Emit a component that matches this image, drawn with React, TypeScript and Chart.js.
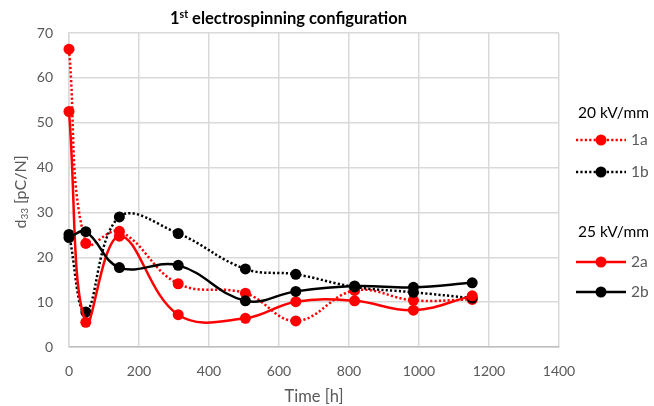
import React, { useEffect, useRef } from "react";
import { Chart, registerables } from "chart.js";

Chart.register(...registerables);

// ---- data ----
const times = [0, 48, 144, 312, 504, 648, 816, 984, 1152];
const values1a = [66.4, 23.1, 25.8, 14.1, 12.0, 5.8, 12.6, 10.4, 10.6];
const values1b = [25.1, 7.8, 29.0, 25.3, 17.4, 16.2, 13.4, 12.2, 10.9];
const values2a = [52.5, 5.5, 24.7, 7.2, 6.4, 10.1, 10.3, 8.2, 11.4];
const values2b = [24.4, 25.7, 17.7, 18.2, 10.3, 12.4, 13.6, 13.3, 14.3];
const seriesLabels = ["1a", "1b", "2a", "2b"];
const legendGroups = ["20 kV/mm", "25 kV/mm"];
const titleMain = "1";
const titleSup = "st";
const titleRest = " electrospinning configuration";
const xTitle = "Time [h]";
const yTitleMain = "d";
const yTitleSub = "33";
const yTitleRest = " [pC/N]";

const FONT = "Lato, 'Noto Sans', sans-serif";
const GRAY = "#595959";

const toPts = (vals: number[]) => vals.map((v, i) => ({ x: times[i], y: v }));

const decorPlugin = {
  id: "decor",
  afterDraw(chart: any) {
    const ctx = chart.ctx as CanvasRenderingContext2D;
    const area = chart.chartArea;
    ctx.save();
    // Title
    ctx.fillStyle = "#000";
    ctx.textBaseline = "alphabetic";
    ctx.font = `bold 16.5px ${FONT}`;
    const w1 = ctx.measureText(titleMain).width;
    const w3 = ctx.measureText(titleRest).width;
    ctx.font = `bold 10.5px ${FONT}`;
    const w2 = ctx.measureText(titleSup).width;
    const total = w1 + w2 + w3;
    let tx = 288.5 - total / 2;
    const ty = 24;
    ctx.textAlign = "left";
    ctx.font = `bold 16.5px ${FONT}`;
    ctx.fillText(titleMain, tx, ty);
    tx += w1;
    ctx.font = `bold 10.5px ${FONT}`;
    ctx.fillText(titleSup, tx, ty - 6);
    tx += w2;
    ctx.font = `bold 16.5px ${FONT}`;
    ctx.fillText(titleRest, tx, ty);

    // X title
    ctx.textBaseline = "middle";
    ctx.fillStyle = GRAY;
    ctx.font = `16.5px ${FONT}`;
    ctx.textAlign = "center";
    ctx.fillText(xTitle, (area.left + area.right) / 2, 397);

    // Y title (rotated, with subscript)
    ctx.save();
    ctx.translate(20.5, 192);
    ctx.rotate(-Math.PI / 2);
    ctx.font = `16px ${FONT}`;
    const a1 = ctx.measureText(yTitleMain).width;
    const a3 = ctx.measureText(yTitleRest).width;
    ctx.font = `10px ${FONT}`;
    const a2 = ctx.measureText(yTitleSub).width;
    let yx = -(a1 + a2 + a3) / 2;
    ctx.textAlign = "left";
    ctx.font = `16px ${FONT}`;
    ctx.fillText(yTitleMain, yx, 0);
    yx += a1;
    ctx.font = `10px ${FONT}`;
    ctx.fillText(yTitleSub, yx, 4);
    yx += a2;
    ctx.font = `16px ${FONT}`;
    ctx.fillText(yTitleRest, yx, 0);
    ctx.restore();

    // Legend
    const groupY = [113, 232];
    const itemY = [140, 172, 262, 292];
    ctx.textAlign = "left";
    ctx.fillStyle = "#000";
    ctx.font = `15.5px ${FONT}`;
    legendGroups.forEach((g, i) => ctx.fillText(g, 578, groupY[i]));
    chart.data.datasets.forEach((ds: any, i: number) => {
      const y = itemY[i];
      ctx.save();
      ctx.strokeStyle = ds.borderColor;
      ctx.lineWidth = ds.borderWidth;
      ctx.setLineDash(ds.borderDash || []);
      ctx.beginPath();
      ctx.moveTo(576, y);
      ctx.lineTo(626, y);
      ctx.stroke();
      ctx.setLineDash([]);
      ctx.fillStyle = ds.pointBackgroundColor;
      ctx.beginPath();
      ctx.arc(601, y, ds.pointRadius, 0, Math.PI * 2);
      ctx.fill();
      ctx.restore();
      ctx.fillStyle = GRAY;
      ctx.font = `15.5px ${FONT}`;
      ctx.fillText(seriesLabels[i], 631, y);
    });
    ctx.restore();
  },
};

export default function App() {
  const ref = useRef<HTMLCanvasElement>(null);
  useEffect(() => {
    if (!ref.current) return;
    const mk = (vals: number[], color: string, dashed: boolean, order: number) => ({
      label: "",
      data: toPts(vals),
      borderColor: color,
      backgroundColor: color,
      pointBackgroundColor: color,
      pointBorderColor: color,
      pointBorderWidth: 0,
      pointRadius: 5.5,
      borderWidth: 2.5,
      borderDash: dashed ? [2.2, 2.2] : [],
      tension: 0.4,
      fill: false,
      clip: false,
      order,
    });
    const chart = new Chart(ref.current, {
      type: "line",
      data: {
        datasets: [
          mk(values1a, "#ff0000", true, 4),
          mk(values1b, "#000000", true, 3),
          mk(values2a, "#ff0000", false, 2),
          mk(values2b, "#000000", false, 1),
        ] as any,
      },
      options: {
        responsive: false,
        animation: false,
        layout: { padding: { left: 0, top: 33, right: 95, bottom: 0 } },
        plugins: { legend: { display: false }, title: { display: false }, tooltip: { enabled: false } },
        scales: {
          x: {
            type: "linear",
            min: 0,
            max: 1400,
            ticks: {
              stepSize: 200,
              color: GRAY,
              font: { family: FONT, size: 14 },
              padding: 16,
              maxRotation: 0,
              callback: (v: any) => String(v),
            },
            grid: { color: "#d9d9d9", lineWidth: 1.5, drawTicks: false },
            border: { color: "#bfbfbf", width: 1.5 },
            afterFit: (s: any) => {
              s.height = 59;
            },
          },
          y: {
            min: 0,
            max: 70,
            ticks: { stepSize: 10, color: GRAY, font: { family: FONT, size: 14 }, padding: 16, callback: (v: any) => String(v) },
            grid: { color: "#d9d9d9", lineWidth: 1.5, drawTicks: false },
            border: { color: "#d9d9d9", width: 1.5 },
            afterFit: (s: any) => {
              s.width = 69;
            },
          },
        },
      } as any,
      plugins: [decorPlugin],
    });
    return () => chart.destroy();
  }, []);
  return (
    <div style={{ position: "absolute", left: 0, top: 0, width: 654, height: 406, background: "#fff" }}>
      <canvas ref={ref} width={654} height={406} style={{ width: 654, height: 406, display: "block" }} />
    </div>
  );
}
